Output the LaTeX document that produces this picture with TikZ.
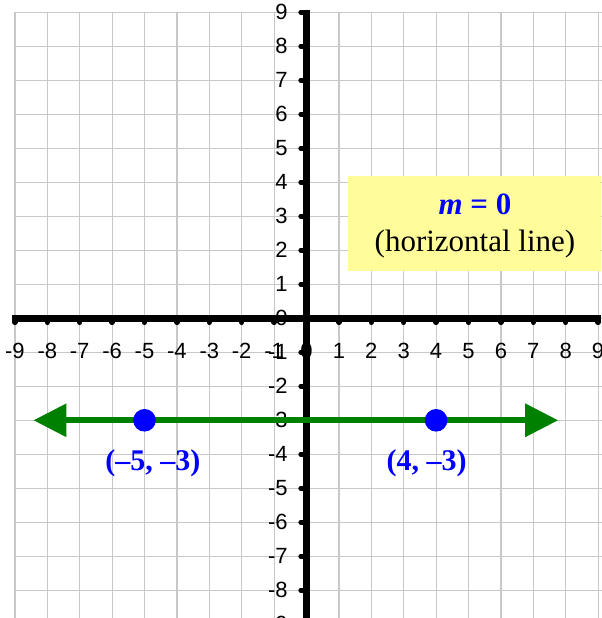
\documentclass[tikz,border=0pt]{standalone}
\usepackage{fontspec}
\setmainfont{Liberation Serif}
\newfontfamily\axisfont{Liberation Sans}
\usetikzlibrary{arrows.meta}
\definecolor{gridgray}{RGB}{200,200,200}
\definecolor{linegreen}{RGB}{0,128,0}
\definecolor{ptblue}{RGB}{0,0,255}
\definecolor{boxyellow}{RGB}{255,252,153}
\begin{document}
\begin{tikzpicture}[x=16.2pt,y=17pt,
  gridline/.style={draw=gridgray,line width=0.6pt},
  axisline/.style={line width=3.3pt},
  tickmark/.style={line width=2.7pt,line cap=round},
  ticklabel/.style={font=\axisfont\fontsize{11}{13}\selectfont,inner sep=0pt},
  ptlabel/.style={font=\bfseries\fontsize{15}{18}\selectfont,text=ptblue,inner sep=0pt,anchor=base},
  ptdot/.style={circle,fill=ptblue,minimum size=11.3pt,inner sep=0pt},
  greenline/.style={draw=linegreen,line width=3pt,{Triangle[length=16.5pt,width=16pt]}-{Triangle[length=16.5pt,width=16pt]}}]
\useasboundingbox (-9.46,-8.815) rectangle (9.12,9.362);
\clip (-9.46,-8.815) rectangle (9.12,9.362);
\fill[white] (-9.46,-8.815) rectangle (9.12,9.362);
\foreach \k in {-9,...,9}{
  \draw[gridline] (\k,-9) -- (\k,9);
  \draw[gridline] (-9,\k) -- (9.2,\k);
}
% info box
\fill[boxyellow] (1.29,1.39) rectangle (9.09,4.185);
\node[font=\bfseries\fontsize{15.5}{18}\selectfont,text=ptblue,inner sep=0pt,anchor=base] (slope) at (5.2,3.04) {\textit{m} = 0};
\node[font=\fontsize{15.5}{18}\selectfont,inner sep=0pt,anchor=base] (kind) at (5.2,1.96) {(horizontal line)};
% axes
\draw[axisline] (-9.08,0) -- (9.1,0);
\draw[axisline] (0,9.08) -- (0,-9.2);
\foreach \i in {-9,...,9}{
  \draw[tickmark] (\i,0) -- (\i,-0.12);
  \node[ticklabel,anchor=base] (xl\i) at (\i,-1.176) {\i};
}
\foreach \j in {-9,...,9}{
  \draw[tickmark] (0,\j) -- (-0.17,\j);
  \node[ticklabel,anchor=base east] (yl\j) at (-0.57,\j-0.2) {\j};
}
% line and points
\coordinate (lt) at (-8.43,-3);
\coordinate (rt) at (7.77,-3);
\draw[greenline] (lt) -- (rt);
\node[ptdot] (p1) at (-5,-3) {};
\node[ptdot] (p2) at (4,-3) {};
\node[ptlabel] (l1) at (-4.74,-4.48) {(–5, –3)};
\node[ptlabel] (l2) at (3.71,-4.48) {(4, –3)};
\end{tikzpicture}
\end{document}
